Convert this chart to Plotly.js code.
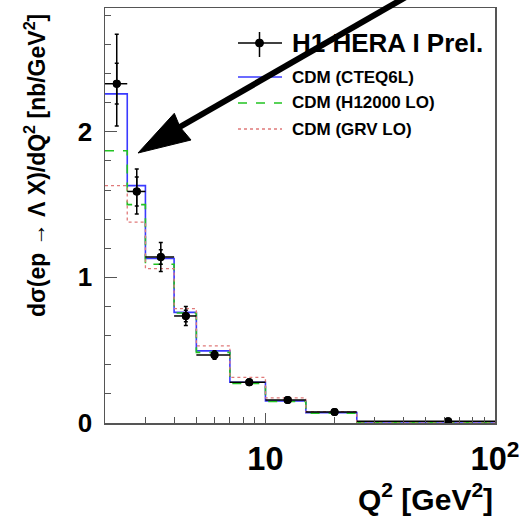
<!DOCTYPE html>
<html>
<head>
<meta charset="utf-8">
<script src="https://cdn.plot.ly/plotly-3.0.1.min.js"></script>
<style>html,body{margin:0;padding:0;background:#fff;}#chart{width:521px;height:517px;}</style>
</head>
<body>
<div id="chart"></div>
<script>
// Bin edges in Q^2 [GeV^2]
var binEdges = [2, 2.5, 3, 4, 5, 7, 10, 15, 25, 100];
// Data points (bin centres)
var dataX = [2.25, 2.75, 3.5, 4.5, 6, 8.5, 12.5, 20, 62.5];
var dataY = [2.33, 1.59, 1.14, 0.735, 0.467, 0.28, 0.158, 0.076, 0.012];
var statErr = [0.14, 0.10, 0.05, 0.04, 0.02, 0.012, 0.008, 0.005, 0.002];
var totErrUp = [0.34, 0.155, 0.10, 0.065, 0.03, 0.02, 0.012, 0.007, 0.003];
var totErrDown = [0.29, 0.155, 0.10, 0.065, 0.03, 0.02, 0.012, 0.007, 0.003];
// Model predictions per bin
var cdmCTEQ6L = [2.26, 1.63, 1.13, 0.76, 0.495, 0.28, 0.151, 0.071, 0.007];
var cdmH12000 = [1.87, 1.50, 1.09, 0.755, 0.485, 0.272, 0.148, 0.068, 0.005];
var cdmGRV = [1.63, 1.38, 1.06, 0.785, 0.53, 0.314, 0.172, 0.078, 0.008];
// Legend / labels
var legendTitle = "H1 HERA I Prel.";
var legendNames = ["CDM (CTEQ6L)", "CDM (H12000 LO)", "CDM (GRV LO)"];
var xTitle = "Q<sup>2</sup> [GeV<sup>2</sup>]";
var yTitle = "dσ(ep → Λ X)/dQ<sup>2</sup> [nb/GeV<sup>2</sup>]";

var FONT = "Liberation Sans, Arial, Helvetica, sans-serif";

function stepY(v){ return v.concat([v[v.length-1]]); }
var xErrMinus = dataX.map(function(c,i){ return c - binEdges[i]; });
var xErrPlus = dataX.map(function(c,i){ return binEdges[i+1] - c; });

var histColors = ["#3a3aff", "#22c322", "#e07a7a"];
var histDash = ["solid", "dash", "dot"];
var histWidth = [1.6, 1.6, 1.3];
var models = [cdmCTEQ6L, cdmH12000, cdmGRV];

var traces = [];
models.forEach(function(m, k){
  traces.push({
    type: "scatter", mode: "lines", x: binEdges, y: stepY(m),
    line: {shape: "hv", color: histColors[k], dash: histDash[k], width: histWidth[k]},
    showlegend: false, hoverinfo: "skip"
  });
});
// total error
traces.push({
  type: "scatter", mode: "markers", x: dataX, y: dataY,
  marker: {color: "black", size: 8},
  error_y: {type: "data", symmetric: false, array: totErrUp, arrayminus: totErrDown, color: "black", thickness: 1.5, width: 2},
  error_x: {type: "data", symmetric: false, array: xErrPlus, arrayminus: xErrMinus, color: "black", thickness: 1.5, width: 0},
  showlegend: false
});
// stat error ticks
traces.push({
  type: "scatter", mode: "markers", x: dataX, y: dataY,
  marker: {color: "black", size: 8},
  error_y: {type: "data", array: statErr, color: "black", thickness: 1.5, width: 2},
  showlegend: false
});

// pixel -> paper helpers (plot area: x 105..495, y 8..423)
function px(x){ return (x - 105) / 390; }
function py(y){ return (423 - y) / 415; }

var shapes = [];
var annotations = [];

// legend
var rows = [43, 77, 103, 129];
shapes.push({type: "line", xref: "paper", yref: "paper", x0: px(238), x1: px(282), y0: py(rows[0]), y1: py(rows[0]), line: {color: "black", width: 1.5}});
shapes.push({type: "line", xref: "paper", yref: "paper", x0: px(259.5), x1: px(259.5), y0: py(32), y1: py(57), line: {color: "black", width: 1.5}});
shapes.push({type: "circle", xref: "paper", yref: "paper", x0: px(255.5), x1: px(263.5), y0: py(47), y1: py(39), fillcolor: "black", line: {color: "black", width: 1}});
annotations.push({xref: "paper", yref: "paper", x: px(290), y: py(rows[0]), xanchor: "left", yanchor: "middle", showarrow: false,
  text: "<b>" + legendTitle + "</b>", font: {family: FONT, size: 26, color: "black"}});
for (var k = 0; k < 3; k++) {
  shapes.push({type: "line", xref: "paper", yref: "paper", x0: px(238), x1: px(282), y0: py(rows[k+1]), y1: py(rows[k+1]),
    line: {color: histColors[k], width: histWidth[k], dash: histDash[k]}});
  annotations.push({xref: "paper", yref: "paper", x: px(290), y: py(rows[k+1]), xanchor: "left", yanchor: "middle", showarrow: false,
    text: "<b>" + legendNames[k] + "</b>", font: {family: FONT, size: 17, color: "black"}});
}

// big arrow
shapes.push({type: "line", xref: "paper", yref: "paper", x0: px(178), y0: py(128), x1: px(432), y1: py(-18), line: {color: "black", width: 6}});
shapes.push({type: "path", xref: "paper", yref: "paper",
  path: "M" + px(138) + "," + py(153) + " L" + px(174.3) + "," + py(113.3) + " L" + px(180) + "," + py(127) + " L" + px(191) + "," + py(140) + " Z",
  fillcolor: "black", line: {color: "black", width: 1}});

// axis titles
annotations.push({xref: "paper", yref: "paper", x: px(35), y: py(166), xanchor: "center", yanchor: "middle", textangle: -90, showarrow: false,
  text: "<b>" + yTitle + "</b>", font: {family: FONT, size: 23, color: "black"}});
annotations.push({xref: "paper", yref: "paper", x: px(495), y: py(497), xanchor: "right", yanchor: "middle", showarrow: false,
  text: "<b>" + xTitle + "</b>", font: {family: FONT, size: 30, color: "black"}});

var layout = {
  width: 521, height: 517,
  margin: {l: 105, r: 26, t: 8, b: 94, pad: 0},
  paper_bgcolor: "white", plot_bgcolor: "white",
  showlegend: false,
  xaxis: {
    type: "log", range: [Math.log10(2), 2], dtick: 1, exponentformat: "power",
    showgrid: false, zeroline: false, showline: true, mirror: true, linecolor: "#555", linewidth: 1.5,
    ticks: "inside", ticklen: 10, tickcolor: "#555", tickwidth: 1,
    minor: {dtick: "D1", ticks: "inside", ticklen: 6, tickcolor: "#555", showgrid: false},
    tickfont: {family: FONT, size: 26, color: "black", weight: "bold"},
    ticklabelstandoff: 8
  },
  yaxis: {
    range: [0, 2.85], dtick: 1, tick0: 0,
    showgrid: false, zeroline: false, showline: true, mirror: true, linecolor: "#555", linewidth: 1.5,
    ticks: "inside", ticklen: 12, tickcolor: "#555", tickwidth: 1,
    minor: {dtick: 0.2, ticks: "inside", ticklen: 6, tickcolor: "#555", showgrid: false},
    tickfont: {family: FONT, size: 26, color: "black", weight: "bold"},
    ticklabelstandoff: 6
  },
  shapes: shapes,
  annotations: annotations
};

Plotly.newPlot("chart", traces, layout, {displayModeBar: false, staticPlot: true});
</script>
</body>
</html>
